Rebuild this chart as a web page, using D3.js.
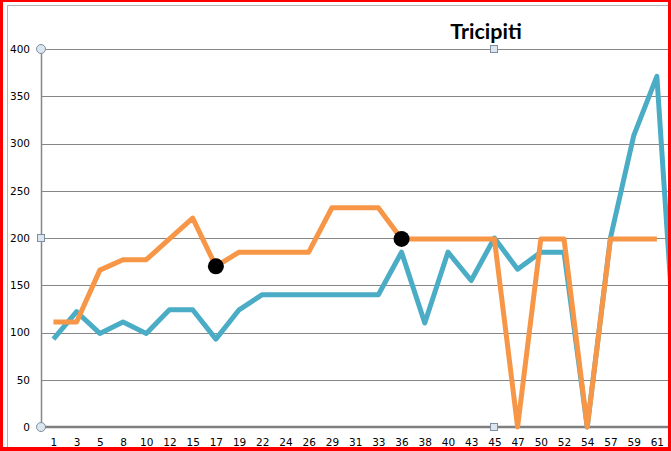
<!DOCTYPE html>
<html>
<head>
<meta charset="utf-8">
<script src="https://cdn.jsdelivr.net/npm/d3@7"></script>
<style>
html,body{margin:0;padding:0;background:#fff;overflow:hidden;}
svg{display:block;}
</style>
</head>
<body>
<svg id="chart" width="671" height="451"></svg>
<script>
const categories = ["1","3","5","8","10","12","15","17","19","22","24","26","29","31","33","36","38","40","43","45","47","50","52","54","57","59","61","63"];
const blueValues = [93,122,99,111,99,124,124,93,124,140,140,140,140,140,140,185,110,185,155,200,167,185,185,0,200,308,371,0];
const orangeValues = [111,111,166,177,177,199,221,170,185,185,185,185,232,232,232,199,199,199,199,199,0,199,199,0,199,199,199,null];
const markedIdx = [7,15];
const yTicks = [0,50,100,150,200,250,300,350,400];
const titleText = "Tricipiti";

(function(){
const svg = d3.select("#chart");
const W = 671, H = 451;
const plotLeft = 41, plotTop = 49, plotBottom = 427;
const step = 23.21;

const x = d3.scalePoint().domain(categories)
  .range([plotLeft + step/2 + 0.8, plotLeft + step/2 + 0.8 + step*(categories.length-1)]);
const y = d3.scaleLinear().domain([0,400]).range([plotBottom, plotTop]);

// chart-area border
svg.append("rect").attr("x",7.5).attr("y",5.5).attr("width",668).attr("height",460)
  .attr("fill","none").attr("stroke","#b4b4b4").attr("stroke-width",1);

// gridlines
svg.append("g").selectAll("line").data(yTicks.filter(d=>d>0)).join("line")
  .attr("x1",plotLeft).attr("x2",W).attr("y1",d=>Math.round(y(d))+0.5).attr("y2",d=>Math.round(y(d))+0.5)
  .attr("stroke","#868686").attr("stroke-width",1);

// y axis
const yAxis = d3.axisLeft(y).tickValues(yTicks).tickSize(0).tickPadding(11);
const gy = svg.append("g").attr("transform",`translate(${plotLeft},0)`).call(yAxis);
gy.select(".domain").attr("stroke","#868686").attr("stroke-width",1.5);
gy.selectAll("text").attr("font-family","'DejaVu Sans', Verdana, sans-serif").attr("font-size","10.5px").attr("fill","#000");

// x axis (last category lies beyond the visible frame, so its label is not shown)
const visibleCats = categories.filter(c => x(c) < W - 10);
const xAxis = d3.axisBottom(x).tickValues(visibleCats).tickSize(0).tickPadding(12);
const gx = svg.append("g").attr("transform",`translate(0,${plotBottom})`).call(xAxis);
gx.select(".domain").remove();
gx.selectAll("text").attr("font-family","'DejaVu Sans', Verdana, sans-serif").attr("font-size","10.5px").attr("fill","#000");
svg.append("line").attr("x1",plotLeft).attr("x2",W).attr("y1",plotBottom).attr("y2",plotBottom)
  .attr("stroke","#7f7f7f").attr("stroke-width",2.5);

// lines
const lineGen = d3.line().defined(d=>d.v!==null).x(d=>x(d.c)).y(d=>y(d.v));
const blueData = categories.map((c,i)=>({c,v:blueValues[i]}));
const orangeData = categories.map((c,i)=>({c,v:orangeValues[i]}));
svg.append("path").datum(blueData).attr("d",lineGen).attr("fill","none")
  .attr("stroke","#4BACC6").attr("stroke-width",5).attr("stroke-linejoin","round");
svg.append("path").datum(orangeData).attr("d",lineGen).attr("fill","none")
  .attr("stroke","#F79646").attr("stroke-width",5).attr("stroke-linejoin","round");

// markers
svg.append("g").selectAll("circle").data(markedIdx).join("circle")
  .attr("cx",i=>x(categories[i])).attr("cy",i=>y(orangeValues[i])).attr("r",8).attr("fill","#000");

// selection handles
const handleFill = "#dbe6f1", handleStroke = "#7f8f9f";
svg.append("circle").attr("cx",plotLeft).attr("cy",y(400)).attr("r",4.5).attr("fill",handleFill).attr("stroke",handleStroke);
svg.append("circle").attr("cx",plotLeft).attr("cy",y(0)).attr("r",4.5).attr("fill",handleFill).attr("stroke",handleStroke);
[[plotLeft,y(200)],[494,y(400)],[494,y(0)]].forEach(([cx,cy])=>{
  svg.append("rect").attr("x",cx-3.5).attr("y",cy-3.5).attr("width",7).attr("height",7)
    .attr("fill",handleFill).attr("stroke",handleStroke);
});

// title
svg.append("text").attr("x",486).attr("y",39).attr("text-anchor","middle")
  .attr("font-family","Lato, 'Open Sans', sans-serif").attr("font-weight","bold").attr("font-size","21.5px")
  .attr("fill","#000").text(titleText);

// red frame
svg.append("rect").attr("x",0).attr("y",0).attr("width",3).attr("height",H).attr("fill","#ff0000");
svg.append("rect").attr("x",W-3).attr("y",0).attr("width",3).attr("height",H).attr("fill","#ff0000");
svg.append("rect").attr("x",0).attr("y",H-4).attr("width",W).attr("height",4).attr("fill","#ff0000");
svg.append("rect").attr("x",0).attr("y",0).attr("width",W).attr("height",2).attr("fill","#ff0000");
})();
</script>
</body>
</html>
